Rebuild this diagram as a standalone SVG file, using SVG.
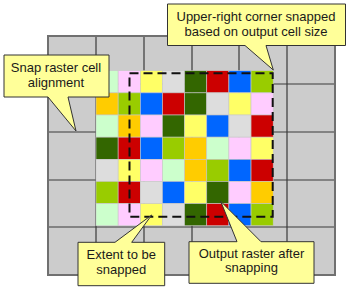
<svg xmlns="http://www.w3.org/2000/svg" width="348" height="288" viewBox="0 0 348 288">
<style>
.gl{stroke:#3a3a3a;stroke-width:1.2;fill:none}
.c{stroke:#c8c8c8;stroke-width:0.6}
.a{fill:#CCFFCC}.p{fill:#FFCCFF}.y{fill:#FFFF66}.g{fill:#DDDDDD}.d{fill:#336600}.r{fill:#CC0000}.b{fill:#0066FF}.v{fill:#99CC00}.o{fill:#FFCC00}
.call{fill:#FFFF99;stroke:#333;stroke-width:1}
.t{font-family:"Liberation Sans",Arial,sans-serif;font-size:13px;fill:#1a1a1a;text-anchor:middle}
</style>
<rect width="348" height="288" fill="#fff"/>
<g id="snap-raster">
<rect x="48" y="36" width="287" height="239" fill="#CCCCCC"/>
<path class="gl" d="M96 36V275M144 36V275M192 36V275M239 36V275M287 36V275M48 84H335M48 132H335M48 180H335M48 227H335"/>
<rect x="48" y="36" width="287" height="239" fill="none" stroke="#707070" stroke-width="2"/>
</g>
<g id="output-raster" class="c">
<rect class="a" x="96" y="70.7" width="22.15" height="22.15"/><rect class="p" x="118.15" y="70.7" width="22.15" height="22.15"/><rect class="y" x="140.3" y="70.7" width="22.15" height="22.15"/><rect class="g" x="162.45" y="70.7" width="22.15" height="22.15"/><rect class="d" x="184.6" y="70.7" width="22.15" height="22.15"/><rect class="r" x="206.75" y="70.7" width="22.15" height="22.15"/><rect class="b" x="228.9" y="70.7" width="22.15" height="22.15"/><rect class="v" x="251.05" y="70.7" width="22.15" height="22.15"/>
<rect class="o" x="96" y="92.85" width="22.15" height="22.15"/><rect class="v" x="118.15" y="92.85" width="22.15" height="22.15"/><rect class="b" x="140.3" y="92.85" width="22.15" height="22.15"/><rect class="r" x="162.45" y="92.85" width="22.15" height="22.15"/><rect class="d" x="184.6" y="92.85" width="22.15" height="22.15"/><rect class="g" x="206.75" y="92.85" width="22.15" height="22.15"/><rect class="y" x="228.9" y="92.85" width="22.15" height="22.15"/><rect class="p" x="251.05" y="92.85" width="22.15" height="22.15"/>
<rect class="a" x="96" y="115" width="22.15" height="22.15"/><rect class="o" x="118.15" y="115" width="22.15" height="22.15"/><rect class="p" x="140.3" y="115" width="22.15" height="22.15"/><rect class="d" x="162.45" y="115" width="22.15" height="22.15"/><rect class="y" x="184.6" y="115" width="22.15" height="22.15"/><rect class="b" x="206.75" y="115" width="22.15" height="22.15"/><rect class="g" x="228.9" y="115" width="22.15" height="22.15"/><rect class="r" x="251.05" y="115" width="22.15" height="22.15"/>
<rect class="d" x="96" y="137.15" width="22.15" height="22.15"/><rect class="r" x="118.15" y="137.15" width="22.15" height="22.15"/><rect class="b" x="140.3" y="137.15" width="22.15" height="22.15"/><rect class="v" x="162.45" y="137.15" width="22.15" height="22.15"/><rect class="o" x="184.6" y="137.15" width="22.15" height="22.15"/><rect class="a" x="206.75" y="137.15" width="22.15" height="22.15"/><rect class="p" x="228.9" y="137.15" width="22.15" height="22.15"/><rect class="y" x="251.05" y="137.15" width="22.15" height="22.15"/>
<rect class="g" x="96" y="159.3" width="22.15" height="22.15"/><rect class="y" x="118.15" y="159.3" width="22.15" height="22.15"/><rect class="p" x="140.3" y="159.3" width="22.15" height="22.15"/><rect class="a" x="162.45" y="159.3" width="22.15" height="22.15"/><rect class="o" x="184.6" y="159.3" width="22.15" height="22.15"/><rect class="v" x="206.75" y="159.3" width="22.15" height="22.15"/><rect class="b" x="228.9" y="159.3" width="22.15" height="22.15"/><rect class="r" x="251.05" y="159.3" width="22.15" height="22.15"/>
<rect class="v" x="96" y="181.45" width="22.15" height="22.15"/><rect class="r" x="118.15" y="181.45" width="22.15" height="22.15"/><rect class="g" x="140.3" y="181.45" width="22.15" height="22.15"/><rect class="b" x="162.45" y="181.45" width="22.15" height="22.15"/><rect class="y" x="184.6" y="181.45" width="22.15" height="22.15"/><rect class="d" x="206.75" y="181.45" width="22.15" height="22.15"/><rect class="p" x="228.9" y="181.45" width="22.15" height="22.15"/><rect class="o" x="251.05" y="181.45" width="22.15" height="22.15"/>
<rect class="a" x="96" y="203.6" width="22.15" height="22.15"/><rect class="p" x="118.15" y="203.6" width="22.15" height="22.15"/><rect class="y" x="140.3" y="203.6" width="22.15" height="22.15"/><rect class="g" x="162.45" y="203.6" width="22.15" height="22.15"/><rect class="d" x="184.6" y="203.6" width="22.15" height="22.15"/><rect class="r" x="206.75" y="203.6" width="22.15" height="22.15"/><rect class="b" x="228.9" y="203.6" width="22.15" height="22.15"/><rect class="v" x="251.05" y="203.6" width="22.15" height="22.15"/>
</g>
<g id="extent">
<rect x="129.5" y="73.3" width="143.2" height="143.4" fill="none" stroke="#111" stroke-width="2" stroke-dasharray="9 5"/>
</g>
<g id="connectors"></g>
<g id="callout-snap">
<path class="call" d="M4 55H109V97H68L76 131L48 97H4Z"/>
<text class="t" x="56" y="72">Snap raster cell</text>
<text class="t" x="56" y="87">alignment</text>
</g>
<g id="callout-corner">
<path class="call" d="M167.5 4H345.5V45.5H266L273.3 70L245 45.5H167.5Z"/>
<text class="t" x="256" y="20.5">Upper-right corner snapped</text>
<text class="t" x="256" y="35.5">based on output cell size</text>
</g>
<g id="callout-extent">
<path class="call" d="M78 242.3H115L151.7 215L131.7 242.3H164.7V285.7H78Z"/>
<text class="t" x="121.3" y="259">Extent to be</text>
<text class="t" x="121.3" y="273.5">snapped</text>
</g>
<g id="callout-output">
<path class="call" d="M189 241.7H237L220.7 201.3L261 241.7H314V283.3H189Z"/>
<text class="t" x="251.5" y="257.5">Output raster after</text>
<text class="t" x="251.5" y="272.3">snapping</text>
</g>
</svg>
